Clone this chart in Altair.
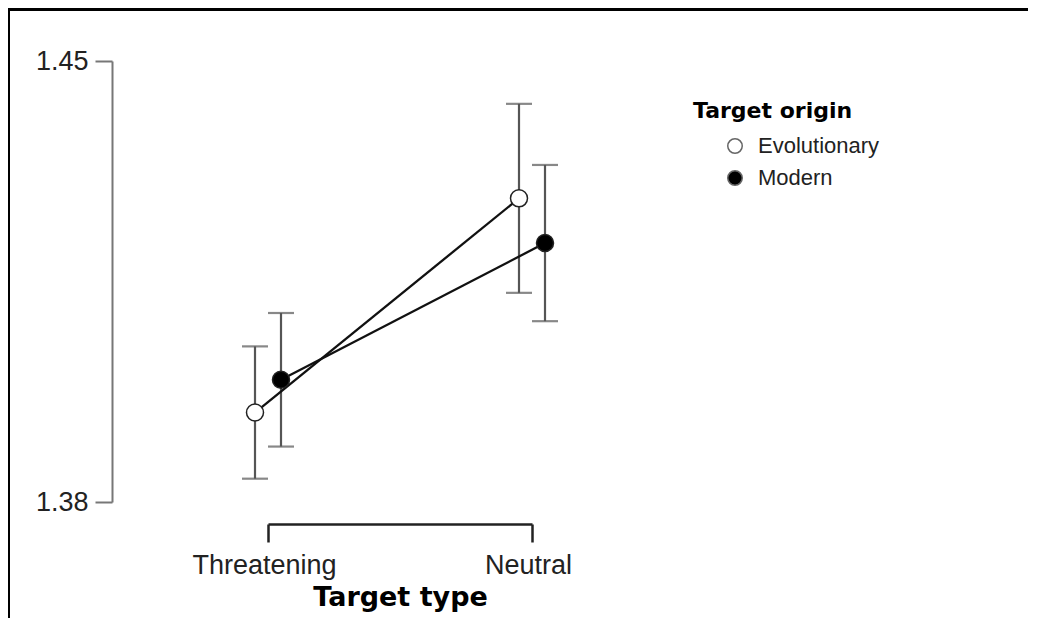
import altair as alt
import pandas as pd

target_types = ["Threatening", "Neutral"]
origins = ["Evolutionary", "Modern"]

type_col = ["Threatening", "Threatening", "Neutral", "Neutral"]
origin_col = ["Evolutionary", "Modern", "Evolutionary", "Modern"]
means = [1.3942, 1.3994, 1.4282, 1.4211]
lower = [1.3837, 1.3888, 1.4132, 1.4087]
upper = [1.4047, 1.4100, 1.4432, 1.4335]

df = pd.DataFrame({
    "type": type_col,
    "origin": origin_col,
    "mean": means,
    "lower": lower,
    "upper": upper,
})

x_enc = alt.X(
    "type:N",
    sort=target_types,
    scale=alt.Scale(type="point", padding=0, domain=target_types),
    axis=alt.Axis(
        title="Target type",
        offset=22,
        labelAngle=0,
        tickSize=18,
        tickWidth=2.5,
        tickColor="#222222",
        domainColor="#222222",
        domainWidth=2.5,
        labelFont="Liberation Sans",
        labelFontSize=27,
        labelColor="#222222",
        labelPadding=10,
        labelOffset=-4,
        titleFont="DejaVu Sans",
        titleFontSize=27,
        titleFontWeight="bold",
        titleColor="#000000",
        titlePadding=6,
        grid=False,
    ),
)
xo_enc = alt.XOffset(
    "origin:N",
    sort=origins,
    scale=alt.Scale(domain=origins, range=[-26, 26], paddingInner=0, paddingOuter=0),
)
y_scale = alt.Scale(domain=[1.38, 1.45], nice=False, zero=False)
y_axis = alt.Axis(
    values=[1.38, 1.45],
    format=".2f",
    title=None,
    offset=156,
    tickSize=17,
    tickWidth=2,
    tickColor="#777777",
    domainColor="#777777",
    domainWidth=2,
    labelFont="Liberation Sans",
    labelFontSize=27,
    labelColor="#222222",
    labelPadding=7,
    grid=False,
)

base = alt.Chart(df)

bars = base.mark_rule(color="#555555", strokeWidth=2.2).encode(
    x=x_enc, xOffset=xo_enc,
    y=alt.Y("lower:Q", scale=y_scale, axis=y_axis),
    y2="upper:Q",
)
cap_lo = base.mark_tick(color="#555555", size=26, thickness=2.2).encode(
    x=x_enc, xOffset=xo_enc, y=alt.Y("lower:Q", scale=y_scale)
)
cap_hi = base.mark_tick(color="#555555", size=26, thickness=2.2).encode(
    x=x_enc, xOffset=xo_enc, y=alt.Y("upper:Q", scale=y_scale)
)
lines = base.mark_line(color="#111111", strokeWidth=2.3).encode(
    x=x_enc, xOffset=xo_enc,
    y=alt.Y("mean:Q", scale=y_scale),
    detail="origin:N",
)
points = base.mark_point(filled=True, size=290, stroke="#222222", strokeWidth=1.5, opacity=1).encode(
    x=x_enc, xOffset=xo_enc,
    y=alt.Y("mean:Q", scale=y_scale),
    fill=alt.Fill(
        "origin:N",
        sort=origins,
        scale=alt.Scale(domain=origins, range=["white", "black"]),
        legend=alt.Legend(
            title="Target origin",
            orient="none",
            legendX=425,
            legendY=40,
            titleFont="DejaVu Sans",
            titleFontSize=22,
            titleFontWeight="bold",
            titleColor="#000000",
            titlePadding=12,
            labelFont="Liberation Sans",
            labelFontSize=22,
            labelColor="#222222",
            labelOffset=12,
            symbolType="circle",
            symbolSize=210,
            symbolStrokeColor="#666666",
            symbolStrokeWidth=1.5,
            symbolOffset=31,
            rowPadding=10,
        ),
    ),
)

frame_df = pd.DataFrame({"k": [0]})
top_border = alt.Chart(frame_df).mark_rule(color="black", strokeWidth=3).encode(
    x=alt.value(-260), x2=alt.value(770), y=alt.value(-51.5)
)
left_border = alt.Chart(frame_df).mark_rule(color="black", strokeWidth=2).encode(
    x=alt.value(-259), y=alt.value(-53), y2=alt.value(570)
)

chart = alt.layer(bars, cap_lo, cap_hi, lines, points, top_border, left_border).properties(
    width=264,
    height=441,
    autosize=alt.AutoSizeParams(type="none"),
    padding={"left": 260, "top": 53, "right": 496, "bottom": 116},
).configure_view(stroke=None)

chart.save("out.html", embed_options={"renderer": "svg", "actions": False})
